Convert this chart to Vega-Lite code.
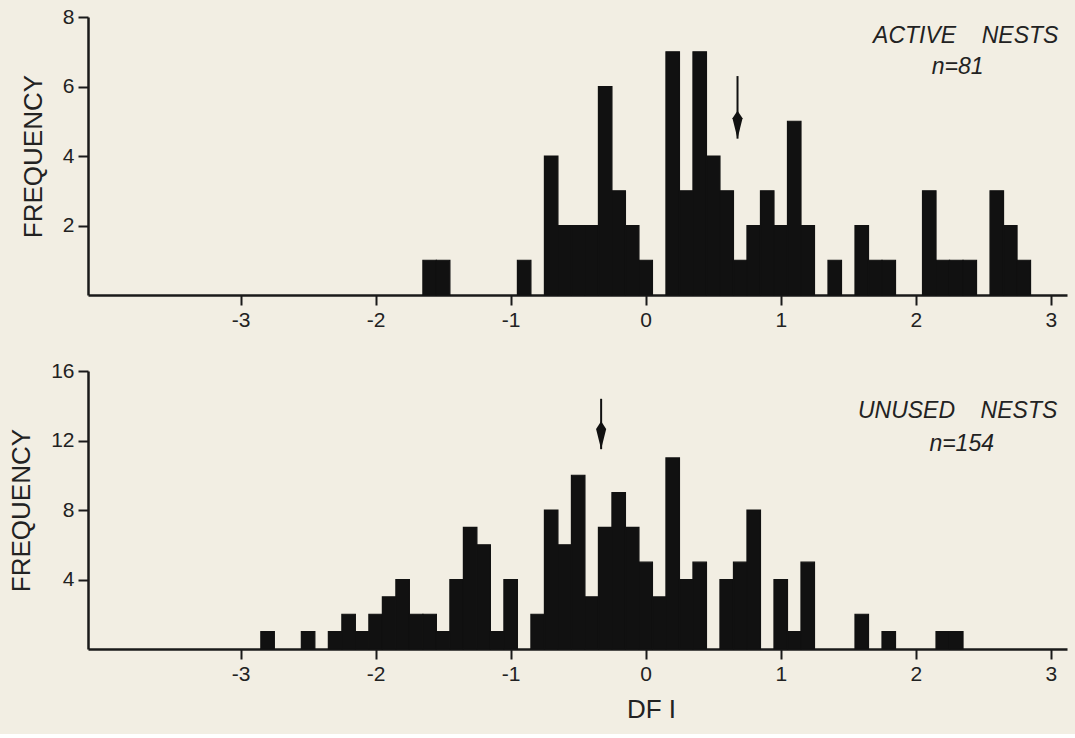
{
  "$schema": "https://vega.github.io/schema/vega-lite/v6.json",
  "background": "#f2eee3",
  "padding": {"left": 8, "top": 6, "right": 8, "bottom": 12},
  "spacing": 30,
  "config": {
    "view": {"stroke": null},
    "axis": {
      "grid": false,
      "domainColor": "#1a1a1a",
      "domainWidth": 2.5,
      "tickColor": "#1a1a1a",
      "tickWidth": 2,
      "tickSize": 10,
      "labelFont": "Liberation Sans",
      "labelFontSize": 21,
      "labelColor": "#222222",
      "labelPadding": 4,
      "titleFont": "Liberation Sans",
      "titleFontSize": 26,
      "titleFontWeight": "normal",
      "titleColor": "#222222"
    }
  },
  "datasets": {
    "active": [
      {"bin_start": -1.65, "bin_end": -1.55, "count": 1},
      {"bin_start": -1.55, "bin_end": -1.45, "count": 1},
      {"bin_start": -0.95, "bin_end": -0.85, "count": 1},
      {"bin_start": -0.75, "bin_end": -0.65, "count": 4},
      {"bin_start": -0.65, "bin_end": -0.55, "count": 2},
      {"bin_start": -0.55, "bin_end": -0.45, "count": 2},
      {"bin_start": -0.45, "bin_end": -0.35, "count": 2},
      {"bin_start": -0.35, "bin_end": -0.25, "count": 6},
      {"bin_start": -0.25, "bin_end": -0.15, "count": 3},
      {"bin_start": -0.15, "bin_end": -0.05, "count": 2},
      {"bin_start": -0.05, "bin_end": 0.05, "count": 1},
      {"bin_start": 0.15, "bin_end": 0.25, "count": 7},
      {"bin_start": 0.25, "bin_end": 0.35, "count": 3},
      {"bin_start": 0.35, "bin_end": 0.45, "count": 7},
      {"bin_start": 0.45, "bin_end": 0.55, "count": 4},
      {"bin_start": 0.55, "bin_end": 0.65, "count": 3},
      {"bin_start": 0.65, "bin_end": 0.75, "count": 1},
      {"bin_start": 0.75, "bin_end": 0.85, "count": 2},
      {"bin_start": 0.85, "bin_end": 0.95, "count": 3},
      {"bin_start": 0.95, "bin_end": 1.05, "count": 2},
      {"bin_start": 1.05, "bin_end": 1.15, "count": 5},
      {"bin_start": 1.15, "bin_end": 1.25, "count": 2},
      {"bin_start": 1.35, "bin_end": 1.45, "count": 1},
      {"bin_start": 1.55, "bin_end": 1.65, "count": 2},
      {"bin_start": 1.65, "bin_end": 1.75, "count": 1},
      {"bin_start": 1.75, "bin_end": 1.85, "count": 1},
      {"bin_start": 2.05, "bin_end": 2.15, "count": 3},
      {"bin_start": 2.15, "bin_end": 2.25, "count": 1},
      {"bin_start": 2.25, "bin_end": 2.35, "count": 1},
      {"bin_start": 2.35, "bin_end": 2.45, "count": 1},
      {"bin_start": 2.55, "bin_end": 2.65, "count": 3},
      {"bin_start": 2.65, "bin_end": 2.75, "count": 2},
      {"bin_start": 2.75, "bin_end": 2.85, "count": 1}
    ],
    "unused": [
      {"bin_start": -2.85, "bin_end": -2.75, "count": 1},
      {"bin_start": -2.55, "bin_end": -2.45, "count": 1},
      {"bin_start": -2.35, "bin_end": -2.25, "count": 1},
      {"bin_start": -2.25, "bin_end": -2.15, "count": 2},
      {"bin_start": -2.15, "bin_end": -2.05, "count": 1},
      {"bin_start": -2.05, "bin_end": -1.95, "count": 2},
      {"bin_start": -1.95, "bin_end": -1.85, "count": 3},
      {"bin_start": -1.85, "bin_end": -1.75, "count": 4},
      {"bin_start": -1.75, "bin_end": -1.65, "count": 2},
      {"bin_start": -1.65, "bin_end": -1.55, "count": 2},
      {"bin_start": -1.55, "bin_end": -1.45, "count": 1},
      {"bin_start": -1.45, "bin_end": -1.35, "count": 4},
      {"bin_start": -1.35, "bin_end": -1.25, "count": 7},
      {"bin_start": -1.25, "bin_end": -1.15, "count": 6},
      {"bin_start": -1.15, "bin_end": -1.05, "count": 1},
      {"bin_start": -1.05, "bin_end": -0.95, "count": 4},
      {"bin_start": -0.85, "bin_end": -0.75, "count": 2},
      {"bin_start": -0.75, "bin_end": -0.65, "count": 8},
      {"bin_start": -0.65, "bin_end": -0.55, "count": 6},
      {"bin_start": -0.55, "bin_end": -0.45, "count": 10},
      {"bin_start": -0.45, "bin_end": -0.35, "count": 3},
      {"bin_start": -0.35, "bin_end": -0.25, "count": 7},
      {"bin_start": -0.25, "bin_end": -0.15, "count": 9},
      {"bin_start": -0.15, "bin_end": -0.05, "count": 7},
      {"bin_start": -0.05, "bin_end": 0.05, "count": 5},
      {"bin_start": 0.05, "bin_end": 0.15, "count": 3},
      {"bin_start": 0.15, "bin_end": 0.25, "count": 11},
      {"bin_start": 0.25, "bin_end": 0.35, "count": 4},
      {"bin_start": 0.35, "bin_end": 0.45, "count": 5},
      {"bin_start": 0.55, "bin_end": 0.65, "count": 4},
      {"bin_start": 0.65, "bin_end": 0.75, "count": 5},
      {"bin_start": 0.75, "bin_end": 0.85, "count": 8},
      {"bin_start": 0.95, "bin_end": 1.05, "count": 4},
      {"bin_start": 1.05, "bin_end": 1.15, "count": 1},
      {"bin_start": 1.15, "bin_end": 1.25, "count": 5},
      {"bin_start": 1.55, "bin_end": 1.65, "count": 2},
      {"bin_start": 1.75, "bin_end": 1.85, "count": 1},
      {"bin_start": 2.15, "bin_end": 2.25, "count": 1},
      {"bin_start": 2.25, "bin_end": 2.35, "count": 1}
    ],
    "active_arrow": [{"df": 0.68, "from": 6.3, "tip": 4.5}],
    "unused_arrow": [{"df": -0.33, "from": 14.4, "tip": 11.5}],
    "active_notes": [
      {"df": 2.37, "freq": 7.45, "label": "ACTIVE\u00a0\u00a0\u00a0\u00a0NESTS"},
      {"df": 2.31, "freq": 6.56, "label": "n=81"}
    ],
    "unused_notes": [
      {"df": 2.31, "freq": 13.7, "label": "UNUSED\u00a0\u00a0\u00a0\u00a0NESTS"},
      {"df": 2.34, "freq": 11.8, "label": "n=154"}
    ]
  },
  "vconcat": [
    {
      "width": 979,
      "height": 278,
      "layer": [
        {
          "data": {"name": "active"},
          "mark": {"type": "rect", "color": "#111111", "stroke": "#111111", "strokeWidth": 1.2},
          "encoding": {
            "x": {"field": "bin_start", "type": "quantitative", "scale": {"domain": [-4.13, 3.12], "nice": false, "zero": false},
                  "axis": {"values": [-3, -2, -1, 0, 1, 2, 3], "title": null, "labelExpr": "datum.value < 0 ? '-' + abs(datum.value) : '' + datum.value"}},
            "x2": {"field": "bin_end"},
            "y": {"field": "count", "type": "quantitative", "scale": {"domain": [0, 8], "nice": false},
                  "axis": {"values": [2, 4, 6, 8], "title": "FREQUENCY", "titlePadding": 16}}
          }
        },
        {
          "data": {"name": "active_arrow"},
          "mark": {"type": "rule", "color": "#111111", "strokeWidth": 2},
          "encoding": {
            "x": {"field": "df", "type": "quantitative", "scale": {"domain": [-4.13, 3.12], "nice": false, "zero": false}},
            "y": {"field": "from", "type": "quantitative", "scale": {"domain": [0, 8], "nice": false}},
            "y2": {"field": "tip"}
          }
        },
        {
          "data": {"name": "active_arrow"},
          "mark": {"type": "point", "shape": "M0,-2L0.36,-1.45L0,0L-0.36,-1.45Z", "filled": true, "size": 784, "color": "#111111", "opacity": 1},
          "encoding": {
            "x": {"field": "df", "type": "quantitative", "scale": {"domain": [-4.13, 3.12], "nice": false, "zero": false}},
            "y": {"field": "tip", "type": "quantitative", "scale": {"domain": [0, 8], "nice": false}}
          }
        },
        {
          "data": {"name": "active_notes"},
          "mark": {"type": "text", "font": "Liberation Sans", "fontStyle": "italic", "fontSize": 23, "color": "#222222"},
          "encoding": {
            "x": {"field": "df", "type": "quantitative", "scale": {"domain": [-4.13, 3.12], "nice": false, "zero": false}},
            "y": {"field": "freq", "type": "quantitative", "scale": {"domain": [0, 8], "nice": false}},
            "text": {"field": "label"}
          }
        }
      ]
    },
    {
      "width": 979,
      "height": 278,
      "layer": [
        {
          "data": {"name": "unused"},
          "mark": {"type": "rect", "color": "#111111", "stroke": "#111111", "strokeWidth": 1.2},
          "encoding": {
            "x": {"field": "bin_start", "type": "quantitative", "scale": {"domain": [-4.13, 3.12], "nice": false, "zero": false},
                  "axis": {"values": [-3, -2, -1, 0, 1, 2, 3], "title": "DF I", "titleX": 563, "titlePadding": 12, "labelExpr": "datum.value < 0 ? '-' + abs(datum.value) : '' + datum.value"}},
            "x2": {"field": "bin_end"},
            "y": {"field": "count", "type": "quantitative", "scale": {"domain": [0, 16], "nice": false},
                  "axis": {"values": [4, 8, 12, 16], "title": "FREQUENCY", "titlePadding": 16}}
          }
        },
        {
          "data": {"name": "unused_arrow"},
          "mark": {"type": "rule", "color": "#111111", "strokeWidth": 2},
          "encoding": {
            "x": {"field": "df", "type": "quantitative", "scale": {"domain": [-4.13, 3.12], "nice": false, "zero": false}},
            "y": {"field": "from", "type": "quantitative", "scale": {"domain": [0, 16], "nice": false}},
            "y2": {"field": "tip"}
          }
        },
        {
          "data": {"name": "unused_arrow"},
          "mark": {"type": "point", "shape": "M0,-2L0.36,-1.45L0,0L-0.36,-1.45Z", "filled": true, "size": 784, "color": "#111111", "opacity": 1},
          "encoding": {
            "x": {"field": "df", "type": "quantitative", "scale": {"domain": [-4.13, 3.12], "nice": false, "zero": false}},
            "y": {"field": "tip", "type": "quantitative", "scale": {"domain": [0, 16], "nice": false}}
          }
        },
        {
          "data": {"name": "unused_notes"},
          "mark": {"type": "text", "font": "Liberation Sans", "fontStyle": "italic", "fontSize": 23, "color": "#222222"},
          "encoding": {
            "x": {"field": "df", "type": "quantitative", "scale": {"domain": [-4.13, 3.12], "nice": false, "zero": false}},
            "y": {"field": "freq", "type": "quantitative", "scale": {"domain": [0, 16], "nice": false}},
            "text": {"field": "label"}
          }
        }
      ]
    }
  ]
}
